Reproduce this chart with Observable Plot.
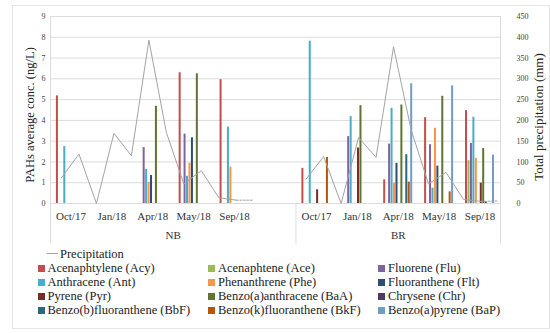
<!DOCTYPE html>
<html>
<head>
<meta charset="utf-8">
<script src="https://cdn.jsdelivr.net/npm/d3@7"></script>
<script src="https://cdn.jsdelivr.net/npm/@observablehq/plot@0.6"></script>
<style>
  body { margin: 0; background: #fff; }
  #wrap { position: relative; width: 550px; height: 333px; overflow: hidden; font-family: "Liberation Serif", "Times New Roman", serif; color: #222; }
  #border { position: absolute; left: 12px; top: 5px; width: 538px; height: 324px; border: 1px solid #e4e4e4; box-sizing: border-box; }
  #chart { position: absolute; left: 0; top: 0; }
  .lg { position: absolute; font-size: 12.5px; line-height: 14px; white-space: nowrap; }
  .sw { position: absolute; width: 7px; height: 7px; }
  .ttl { position: absolute; white-space: nowrap; transform: translate(-50%, -50%) rotate(-90deg); line-height: 1; color: #222; }
</style>
</head>
<body>
<div id="wrap">
  <div id="border"></div>
  <div id="chart"></div>
  <div class="ttl" style="left:30px; top:114.5px; font-size:12.5px;">PAHs average conc. (ng/L)</div>
  <div class="ttl" style="left:538px; top:116.5px; font-size:13px;">Total precipitation (mm)</div>
  <div id="legend"></div>
</div>
<script>
// ---------- data ----------
const sites = ["NB", "BR"];
const months = ["Oct/17", "Jan/18", "Apr/18", "May/18", "Sep/18"];
const compounds = [
  "Acenaphtylene (Acy)", "Acenaphtene (Ace)", "Fluorene (Flu)",
  "Anthracene (Ant)", "Phenanthrene (Phe)", "Fluoranthene (Flt)",
  "Pyrene (Pyr)", "Benzo(a)anthracene (BaA)", "Chrysene (Chr)",
  "Benzo(b)fluoranthene (BbF)", "Benzo(k)fluoranthene (BkF)", "Benzo(a)pyrene (BaP)"
];
const colors = ["#C0504D", "#9BBB59", "#8064A2", "#4BACC6", "#F79646", "#2C4D75",
                "#772C2A", "#5F7530", "#4D3B62", "#276A7C", "#B65708", "#729ACA"];

// values: NB Oct, Jan, Apr, May, Sep | BR Oct, Jan, Apr, May, Sep  (ng/L)
const acy = [5.18, 0, 0, 6.29, 5.96,   1.69, 0, 1.14, 4.13, 4.47];
const ace = [0, 0, 0, 0, 0,            0, 0, 0, 0, 2.06];
const flu = [0, 0, 2.69, 3.34, 0,      0, 3.22, 2.86, 2.83, 2.89];
const ant = [2.74, 0, 1.64, 1.31, 3.68, 7.81, 4.18, 4.58, 0.74, 4.15];
const phe = [0, 0, 1.02, 1.94, 1.74,   0, 0, 0.98, 3.62, 2.17];
const flt = [0, 0, 1.35, 3.16, 0,      0, 0, 1.93, 1.80, 0];
const pyr = [0, 0, 0, 0, 0,            0.66, 2.67, 0, 0, 0.98];
const baa = [0, 0, 4.68, 6.24, 0,      0, 4.71, 4.74, 5.16, 2.65];
const chr = [0, 0, 0, 0, 0,            0, 0, 0, 0, 0.08];
const bbf = [0, 0, 0, 0, 0,            0, 0, 2.35, 0, 0];
const bkf = [0, 0, 0, 0, 0,            2.22, 0, 1.03, 0.56, 0];
const bap = [0, 0, 0, 0, 0,            0, 0, 5.76, 5.66, 2.33];
const series = [acy, ace, flu, ant, phe, flt, pyr, baa, chr, bbf, bkf, bap];

// monthly precipitation (mm), Oct/17 .. Sep/18
const precipMonths = ["Oct/17","Nov/17","Dec/17","Jan/18","Feb/18","Mar/18","Apr/18","May/18","Jun/18","Jul/18","Aug/18","Sep/18"];
const precipNB = [62, 119, 0, 169, 115, 393, 171, 47, 79, 14, 8, 8];
const precipBR = [59, 113, 0, 159, 111, 377, 178, 47, 75, 10, 5, 6];

const concTicks = [0, 1, 2, 3, 4, 5, 6, 7, 8, 9];
const precipTicks = [0, 50, 100, 150, 200, 250, 300, 350, 400, 450];

// ---------- layout helpers ----------
const concMax = 9, precipMax = 450;
const groupStart = [0, 6], groupEnd = [6, 11];
const barW = 0.06;
const lineStart = 0.269, lineStep = 0.4272, lineSiteOffset = 14;

const bars = [];
series.forEach((vals, s) => vals.forEach((v, i) => {
  if (!v) return;
  const site = Math.floor(i / months.length), k = i % months.length;
  const c = groupStart[site] + k + 0.5;
  const off = s - series.length / 2;
  bars.push({compound: compounds[s], x1: c + off * barW, x2: c + (off + 1) * barW, v});
}));

const linePts = [];
[precipNB, precipBR].forEach((vals, site) => vals.forEach((p, m) => linePts.push({
  site: sites[site], m, x: lineStart + (site * lineSiteOffset + m) * lineStep, y: p * concMax / precipMax
})));
const lastM = precipMonths.length - 1;

const catLabels = sites.flatMap((s, site) => months.map((m, k) => ({label: m, x: groupStart[site] + k + 0.5})));
const siteLabels = sites.map((s, site) => ({label: s, x: (groupStart[site] + groupEnd[site]) / 2}));
const boxLines = [0, 6, 11];

const svg = Plot.plot({
  width: 550,
  height: 245,
  marginLeft: 50,
  marginRight: 50,
  marginTop: 16,
  marginBottom: 42,
  style: {fontFamily: "'Liberation Serif', 'Times New Roman', serif", background: "transparent", overflow: "visible"},
  x: {domain: [0, 11], axis: null},
  y: {domain: [0, 9], axis: null},
  color: {domain: compounds, range: colors},
  marks: [
    Plot.ruleY(concTicks, {stroke: "#dcdcdc", strokeWidth: 1}),
    Plot.frame({stroke: "#dcdcdc"}),
    Plot.ruleX(boxLines, {y1: 0, y2: -1.95, stroke: "#dcdcdc"}),
    Plot.rect(bars, {x1: "x1", x2: "x2", y1: 0, y2: "v", fill: "compound", insetLeft: 0.2, insetRight: 0.25}),
    Plot.line(linePts.filter(d => d.m < lastM), {x: "x", y: "y", z: "site", stroke: "#a3a3a3", strokeWidth: 1}),
    Plot.line(linePts.filter(d => d.m >= lastM - 1), {x: "x", y: "y", z: "site", stroke: "#a3a3a3", strokeWidth: 1, strokeDasharray: "2,1.5"}),
    // left ticks
    Plot.text(concTicks, {y: d => d, text: d => String(d), frameAnchor: "left", textAnchor: "end", dx: -5, fontSize: 8, fill: "#444"}),
    // right ticks (secondary axis)
    Plot.text(precipTicks, {y: d => d * concMax / precipMax, text: d => String(d), frameAnchor: "right", textAnchor: "start", dx: 16, fontSize: 8, fill: "#444"}),
    // category labels
    Plot.text(catLabels, {x: "x", y: 0, text: "label", dy: 13, fontSize: 11, fill: "#333"}),
    Plot.text(siteLabels, {x: "x", y: 0, text: "label", dy: 32, fontSize: 11, fill: "#333"})
  ]
});
document.getElementById("chart").appendChild(svg);

// ---------- legend ----------
const legend = document.getElementById("legend");
const colX = [37.5, 208, 378], rowY0 = 268, rowH = 14;
{
  const ln = document.createElement("div");
  ln.style.cssText = "position:absolute;left:47px;top:253px;width:11px;height:0;border-top:1px solid #a3a3a3;";
  legend.appendChild(ln);
  const t = document.createElement("div");
  t.className = "lg";
  t.style.left = "60px"; t.style.top = (253.5 - 7) + "px";
  t.textContent = "Precipitation";
  legend.appendChild(t);
}
compounds.forEach((c, i) => {
  const col = i % 3, row = Math.floor(i / 3);
  const y = rowY0 + row * rowH;
  const sw = document.createElement("div");
  sw.className = "sw";
  sw.style.left = colX[col] + "px"; sw.style.top = (y - 3.5) + "px"; sw.style.background = colors[i];
  legend.appendChild(sw);
  const t = document.createElement("div");
  t.className = "lg";
  t.style.left = (colX[col] + 10) + "px"; t.style.top = (y - 7) + "px";
  t.textContent = c;
  legend.appendChild(t);
});
</script>
</body>
</html>
